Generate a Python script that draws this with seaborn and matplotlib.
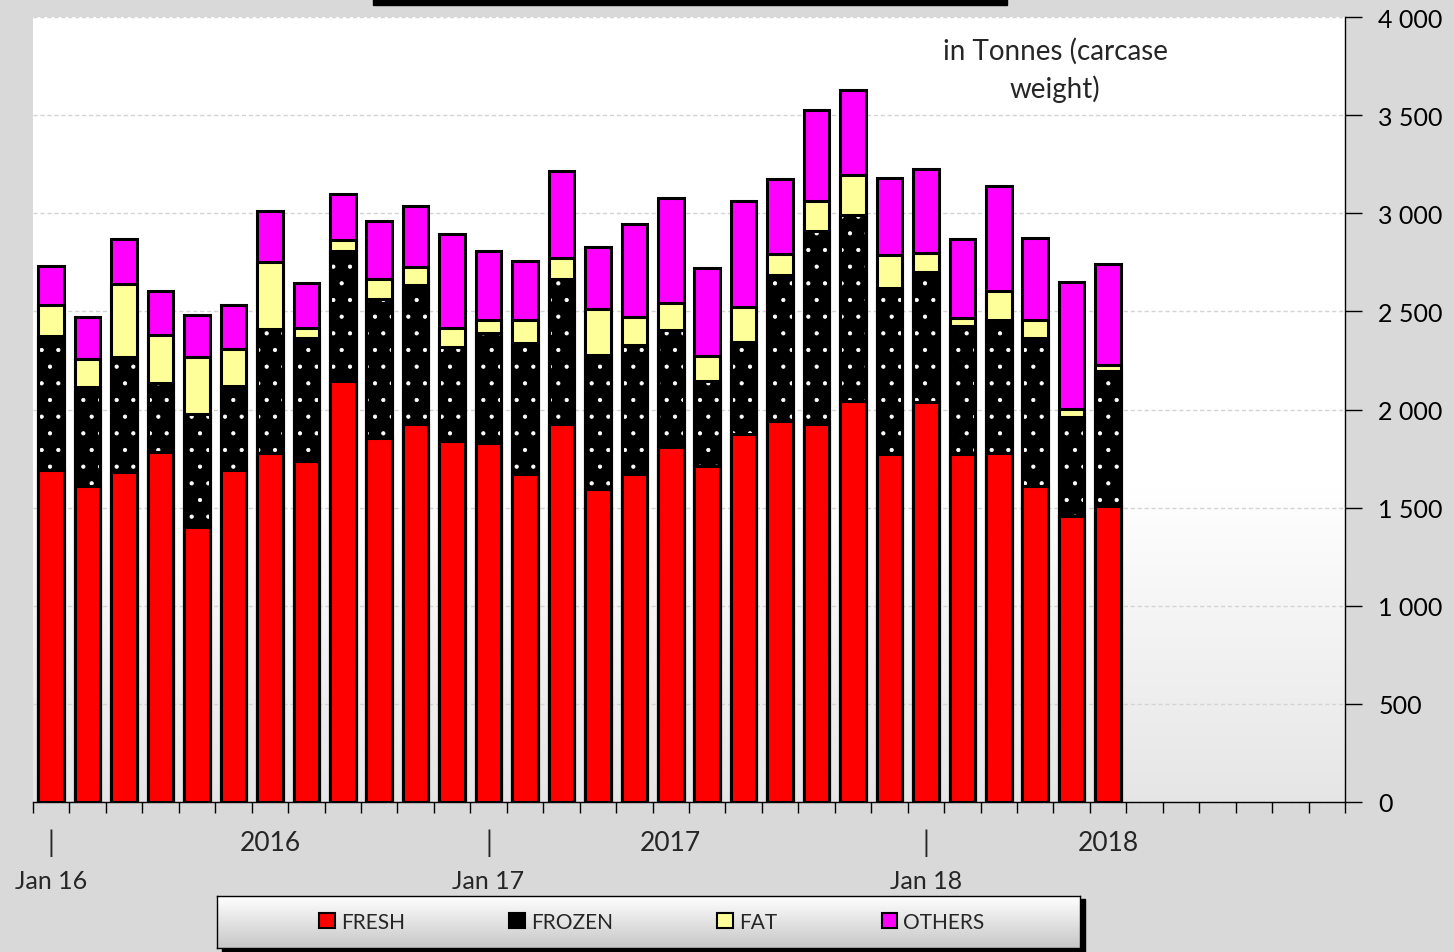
import numpy as np
import pandas as pd
import matplotlib.pyplot as plt
import seaborn as sns
from matplotlib.patches import Rectangle, Patch

# monthly categories Jan 2016 .. Jun 2018 (axis runs to Dec 2018)
months = ["Jan16", "Feb16", "Mar16", "Apr16", "May16", "Jun16", "Jul16", "Aug16", "Sep16", "Oct16",
          "Nov16", "Dec16", "Jan17", "Feb17", "Mar17", "Apr17", "May17", "Jun17", "Jul17", "Aug17",
          "Sep17", "Oct17", "Nov17", "Dec17", "Jan18", "Feb18", "Mar18", "Apr18", "May18", "Jun18"]

# tonnes
fresh = [1690, 1610, 1680, 1785, 1400, 1690, 1780, 1740, 2145, 1855, 1925, 1840, 1830, 1670, 1925,
         1595, 1670, 1810, 1710, 1875, 1940, 1925, 2045, 1775, 2040, 1775, 1780, 1610, 1455, 1510]
frozen = [685, 505, 585, 350, 575, 430, 630, 625, 665, 710, 710, 480, 560, 670, 740,
          685, 660, 595, 435, 470, 745, 985, 945, 845, 660, 650, 675, 755, 505, 685]
fat = [160, 140, 375, 245, 295, 190, 340, 50, 55, 100, 90, 95, 65, 115, 105,
       230, 140, 140, 130, 175, 105, 150, 205, 165, 100, 40, 150, 90, 45, 30]
others = [195, 215, 230, 225, 210, 225, 260, 230, 235, 295, 310, 480, 355, 300, 445,
          320, 475, 535, 445, 540, 385, 465, 435, 395, 425, 405, 535, 420, 645, 515]

year_labels = ["2016", "2017", "2018"]
jan_labels = ["Jan 16", "Jan 17", "Jan 18"]
series_names = ["FRESH", "FROZEN", "FAT", "OTHERS"]

df = pd.DataFrame({"month": months, "fresh": fresh, "frozen": frozen, "fat": fat, "others": others})
df["c_frozen"] = df["fresh"] + df["frozen"]
df["c_fat"] = df["c_frozen"] + df["fat"]
df["c_others"] = df["c_fat"] + df["others"]

sns.set_theme(style="white")
plt.rcParams["font.family"] = ["Lato", "DejaVu Sans"]
plt.rcParams["hatch.linewidth"] = 0.6

W, H = 1454, 953
fig = plt.figure(figsize=(W / 100, H / 100), dpi=100, facecolor="#d9d9d9")
ax = fig.add_axes([33 / W, 150 / H, 1312 / W, 785 / H])

# plot area background: white fading to light grey at the bottom
t = np.linspace(0, 1, 256)
shade = np.where(t < 0.6, 1.0, 1.0 - (t - 0.6) / 0.4 * 0.10)
grad = np.dstack([shade, shade, shade]).reshape(256, 1, 3)
ax.imshow(grad, extent=[0, 1, 0, 1], transform=ax.transAxes, aspect="auto", zorder=-1)

kw = dict(x="month", order=months, ax=ax, width=0.7, linewidth=2.2, saturation=1)
sns.barplot(data=df, y="c_others", color="#ff00ff", edgecolor="black", **kw)
sns.barplot(data=df, y="c_fat", color="#ffff99", edgecolor="black", **kw)
sns.barplot(data=df, y="c_frozen", color="black", edgecolor="white", hatch=".",
            x="month", order=months, ax=ax, width=0.7, linewidth=0, saturation=1)
sns.barplot(data=df, y="c_frozen", color="black", fill=False, **kw)
sns.barplot(data=df, y="fresh", color="#ff0000", edgecolor="black", **kw)

ax.set_xlim(-0.5, 35.5)
ax.set_ylim(0, 4000)
ax.set_xlabel("")
ax.set_ylabel("")

# x axis: tick marks between months, custom year / Jan labels
ax.set_xticks([])
ax.set_xticks(np.arange(-0.5, 36, 1), minor=True)
ax.tick_params(axis="x", which="minor", bottom=True, length=8, width=1, color="black", direction="out")
tr = ax.get_xaxis_transform()
for pos, lab in zip([0, 12, 24], jan_labels):
    ax.text(pos, -0.051, "|", transform=tr, ha="center", va="center", fontsize=20)
    ax.text(pos, -0.100, lab, transform=tr, ha="center", va="center", fontsize=18)
for pos, lab in zip([6, 17, 29], year_labels):
    ax.text(pos, -0.051, lab, transform=tr, ha="center", va="center", fontsize=19)

# y axis on the right
ax.yaxis.tick_right()
yt = np.arange(0, 4001, 500)
ax.set_yticks(yt)
ax.set_yticklabels([f"{v:,}".replace(",", " ") for v in yt])
ax.tick_params(axis="y", right=True, left=False, length=12, width=1, color="black",
               pad=12, labelsize=18, labelcolor="black")
ax.grid(axis="y", linestyle=(0, (3, 2)), color="#d4d4d4", linewidth=1)
ax.grid(axis="x", visible=False)
ax.set_axisbelow(True)
for s in ["left", "top"]:
    ax.spines[s].set_visible(False)
for s in ["right", "bottom"]:
    ax.spines[s].set_color("black")
    ax.spines[s].set_linewidth(1)

ax.text(27.55, 3733, "in Tonnes (carcase\nweight)", ha="center", va="center",
        fontsize=20, linespacing=1.5)

# cut-off title box at the very top
fig.patches.append(Rectangle((373 / W, 1 - 6 / H), 634 / W, 6 / H, color="black",
                             transform=fig.transFigure, zorder=3))

# legend box with shadow and gradient
fig.patches.append(Rectangle((222 / W, 0), 863 / W, 53 / H, color="black",
                             transform=fig.transFigure, zorder=0.5))
lax = fig.add_axes([217 / W, 4 / H, 863 / W, 52 / H], zorder=1)
lg = np.linspace(1.0, 0.78, 64)
lax.imshow(np.dstack([lg, lg, lg]).reshape(64, 1, 3), aspect="auto", extent=[0, 1, 0, 1])
lax.set_xticks([])
lax.set_yticks([])
for s in lax.spines.values():
    s.set_color("black")
    s.set_linewidth(1)

handles = [Patch(facecolor=c, edgecolor="black", linewidth=1.5)
           for c in ["#ff0000", "black", "#ffff99", "#ff00ff"]]
fig.legend(handles, series_names, loc="center", bbox_to_anchor=(652 / W, 1 - 923 / H),
           ncol=4, frameon=False, fontsize=15, columnspacing=5.0, handlelength=0.75,
           handleheight=0.75, handletextpad=0.3)

plt.savefig("out.png", dpi=100, facecolor=fig.get_facecolor())
